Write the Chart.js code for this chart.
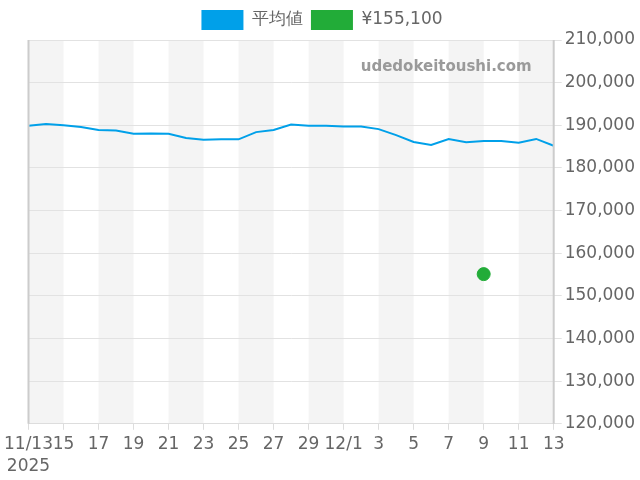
<!DOCTYPE html>
<html><head><meta charset="utf-8">
<script src="https://cdn.jsdelivr.net/npm/chart.js@4/dist/chart.umd.min.js"></script>
<style>html,body{margin:0;padding:0;background:#fff}#wrap{width:640px;height:480px}</style>
</head><body><div id="wrap"><canvas id="c"></canvas></div>
<script>
const categories = ['11/13','11/14','11/15','11/16','11/17','11/18','11/19','11/20','11/21','11/22','11/23','11/24','11/25','11/26','11/27','11/28','11/29','11/30','12/1','12/2','12/3','12/4','12/5','12/6','12/7','12/8','12/9','12/10','12/11','12/12','12/13'];
const tickLabels = [['11/13','2025'],'15','17','19','21','23','25','27','29','12/1','3','5','7','9','11','13'];
const averageValues = [189900,190300,190000,189600,188900,188800,188000,188100,188000,187000,186600,186700,186700,188400,188900,190200,189900,189900,189700,189700,189100,187700,186100,185400,186800,186000,186300,186300,185900,186800,185200];
const singleValues = [null,null,null,null,null,null,null,null,null,null,null,null,null,null,null,null,null,null,null,null,null,null,null,null,null,null,155100,null,null,null,null];
const seriesNames = ['平均値','¥155,100'];
const yTicks = [120000,130000,140000,150000,160000,170000,180000,190000,200000,210000];

const FONT = 'DejaVu Sans';
const bgPlugin = {
  id:'bg',
  beforeDraw(chart){
    const {ctx, chartArea:a, scales:{x}} = chart;
    ctx.save();
    ctx.fillStyle = '#f4f4f4';
    for(let i=0;i<categories.length-1;i+=4){
      const x0 = x.getPixelForValue(i), x1 = x.getPixelForValue(Math.min(i+2,categories.length-1));
      ctx.fillRect(x0,a.top,x1-x0,a.bottom-a.top);
    }
    ctx.restore();
  },
  afterDatasetsDraw(chart){
    const {ctx, chartArea:a} = chart;
    ctx.save();
    ctx.fillStyle = '#9a9a9a';
    ctx.font = 'bold 15px ' + FONT;
    ctx.textAlign = 'right';
    ctx.textBaseline = 'middle';
    ctx.fillText('udedokeitoushi.com', a.right-22, a.top+27);
    ctx.strokeStyle = '#cccccc';
    ctx.lineWidth = 2;
    ctx.beginPath();
    ctx.moveTo(a.left, a.top); ctx.lineTo(a.left, a.bottom);
    ctx.moveTo(a.right, a.top); ctx.lineTo(a.right, a.bottom);
    ctx.stroke();
    ctx.restore();
  }
};

new Chart(document.getElementById('c'), {
  type:'line',
  data:{
    labels: categories,
    datasets:[
      {label:seriesNames[0], data:averageValues, borderColor:'#00a0e9', backgroundColor:'#00a0e9', borderWidth:2, pointRadius:0, tension:0, fill:false},
      {label:seriesNames[1], data:singleValues, borderColor:'#22ac38', backgroundColor:'#22ac38', pointRadius:6.5, pointHoverRadius:6.5, showLine:false}
    ]
  },
  options:{
    responsive:true, maintainAspectRatio:false, animation:false,
    layout:{padding:{left:6,right:2,top:2,bottom:0}},
    plugins:{
      legend:{position:'top', labels:{boxWidth:42, boxHeight:20, font:{family:FONT,size:17}, color:'#666', padding:8,
        generateLabels(chart){ return chart.data.datasets.map((d,i)=>({text:d.label, fillStyle:d.backgroundColor, strokeStyle:d.backgroundColor, lineWidth:0, datasetIndex:i, fontColor:'#666'})); }}},
      tooltip:{enabled:false}
    },
    scales:{
      x:{
        offset:false,
        afterFit(s){ s.height -= 2; },
        grid:{drawOnChartArea:false, drawTicks:true, tickLength:6, color:'#dddddd'},
        border:{color:'#dddddd'},
        ticks:{autoSkip:false, maxRotation:0, color:'#666', font:{family:FONT,size:17,lineHeight:1.3}, padding:4,
          callback(v,i){ return i%2===0 ? tickLabels[i/2] : null; }}
      },
      y:{
        position:'right', min:yTicks[0], max:yTicks[yTicks.length-1],
        afterBuildTicks(s){ s.ticks = yTicks.map(v=>({value:v})); },
        grid:{color:'#e2e2e2', tickLength:8},
        border:{display:false},
        ticks:{color:'#666', font:{family:FONT,size:17}, padding:3,
          callback(v){ return v.toLocaleString('en-US'); }}
      }
    }
  },
  plugins:[bgPlugin]
});
</script></body></html>
